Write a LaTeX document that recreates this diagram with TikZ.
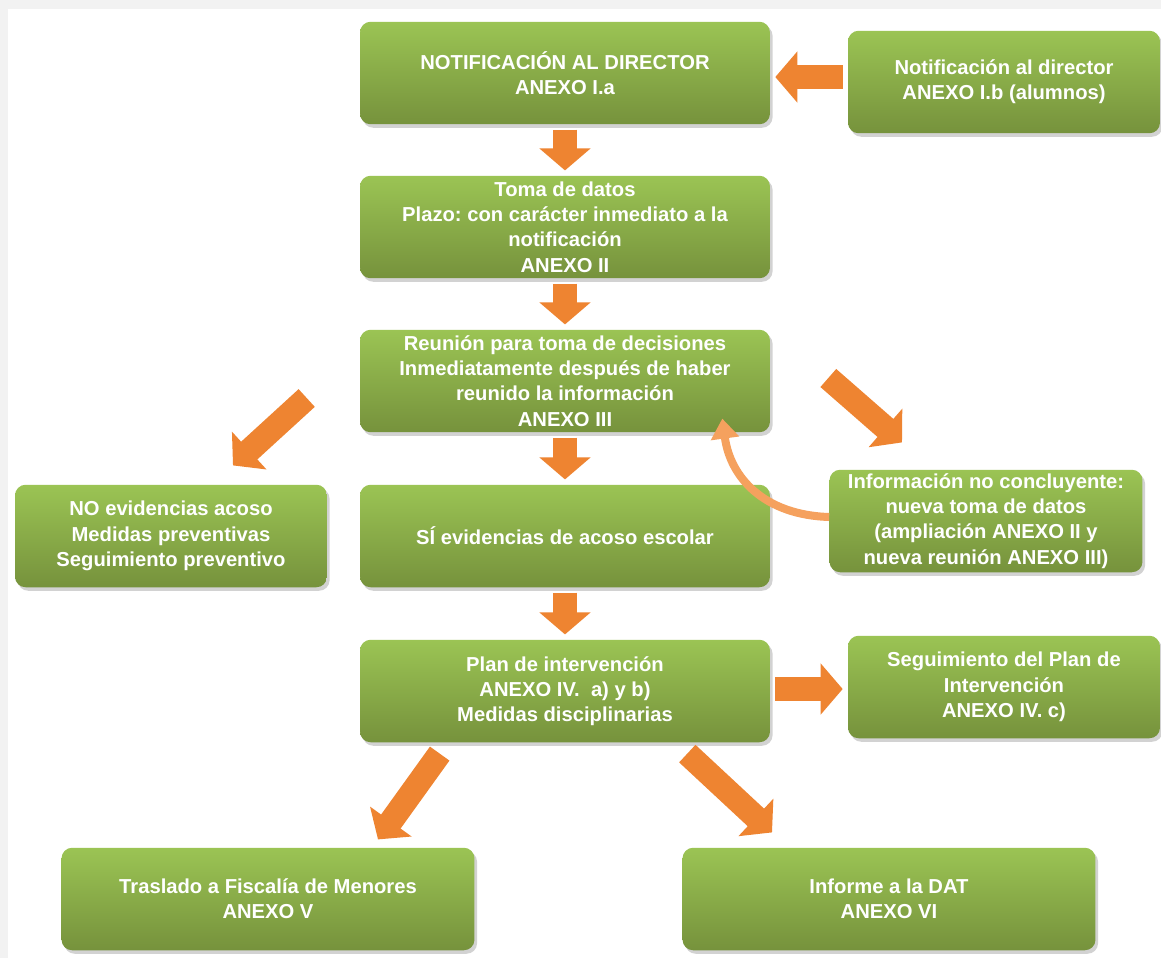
\documentclass[tikz,border=0pt]{standalone}
\usepackage{fontspec}
\setmainfont{Liberation Sans}
\usetikzlibrary{arrows.meta,calc,shadows}
\definecolor{grnT}{HTML}{9BC454}
\definecolor{grnB}{HTML}{76923C}
\definecolor{arrc}{HTML}{EE8431}
\definecolor{curvc}{HTML}{F5A15E}
\definecolor{framec}{HTML}{F2F2F2}
\frenchspacing

\begin{document}
\begin{tikzpicture}[x=0.02cm, y=-0.02cm,
  font=\fontsize{11.5}{14.4}\selectfont\bfseries,
  box/.style={rectangle, rounded corners=6pt, top color=grnT, bottom color=grnB,
              text=white, align=center, minimum height=2.05cm, inner sep=1pt,
              drop shadow={shadow xshift=1.5pt, shadow yshift=-2pt, opacity=0.35}},
  blk/.style={draw=arrc, line width=0.48cm, -{Triangle[length=0.44cm,width=1.0cm]}},
  ret/.style={draw=curvc, line width=0.16cm, -{Triangle[length=0.4cm,width=0.55cm]}}]
\useasboundingbox (0,0) rectangle (1161,958);
\fill[framec] (0,0) rectangle (1161,958);
\fill[white] (8,9) rectangle (1161,958);
% main column
\node[box, minimum width=8.2cm] (dir) at (565,73) {NOTIFICACIÓN AL DIRECTOR\\ANEXO I.a};
\node[box, minimum width=8.2cm] (toma) at (565,227)
     {Toma de datos\\Plazo: con carácter inmediato a la\\notificación\\ANEXO II};
\node[box, minimum width=8.2cm] (reu) at (565,381)
     {Reunión para toma de decisiones\\Inmediatamente después de haber\\reunido la información\\ANEXO III};
\node[box, minimum width=8.2cm] (siev) at (565,536) {SÍ evidencias de acoso escolar};
\node[box, minimum width=8.2cm] (plan) at (565,691)
     {Plan de intervención\\ANEXO IV.\ \ a) y b)\\Medidas disciplinarias};
% side boxes
\node[box, minimum width=6.24cm] (alum) at (1004,82) {Notificación al director\\ANEXO I.b (alumnos)};
\node[box, minimum width=6.24cm] (noev) at (171,536)
     {NO evidencias acoso\\Medidas preventivas\\Seguimiento preventivo};
\node[box, minimum width=6.26cm] (info) at (986,521)
     {Información no concluyente:\\nueva toma de datos\\(ampliación ANEXO II y\\nueva reunión ANEXO III)};
\node[box, minimum width=6.24cm] (segui) at (1004,687)
     {Seguimiento del Plan de\\Intervención\\ANEXO IV. c)};
\node[box, minimum width=8.26cm] (tras) at (268,899) {Traslado a Fiscalía de Menores\\ANEXO V};
\node[box, minimum width=8.26cm] (dat) at (889,899) {Informe a la DAT\\ANEXO VI};
% block arrows
\draw[blk] ($(dir.south)+(0,5)$) -- ($(toma.north)+(0,-5)$);
\draw[blk] ($(toma.south)+(0,5)$) -- ($(reu.north)+(0,-5)$);
\draw[blk] ($(reu.south)+(0,5)$) -- ($(siev.north)+(0,-5)$);
\draw[blk] ($(siev.south)+(0,5)$) -- ($(plan.north)+(0,-5)$);
\draw[blk] ($(alum.west)+(-5,-5)$) -- ($(dir.east)+(5,4)$);
\draw[blk] ($(plan.east)+(5,-2)$) -- ($(segui.west)+(-5,2)$);
\draw[blk] ($(reu.west)+(-53,17)$) -- ($(noev.north)+(62,-19)$);
\draw[blk] ($(reu.east)+(58,-3)$) -- ($(info.north)+(-84,-27)$);
\draw[blk] ($(plan.south west)+(80,11)$) -- ($(tras.north)+(110,-8)$);
\draw[blk] ($(plan.south east)+(-83,11)$) -- ($(dat.north)+(-117,-15)$);
% back to the meeting
\draw[ret] ($(info.west)+(0,-4)$) .. controls ($(info.west)+(-65,-6)$) and ($(reu.south east)+(-40,45)$)
           .. ($(reu.south east)+(-48,-14)$);
\end{tikzpicture}
\end{document}
